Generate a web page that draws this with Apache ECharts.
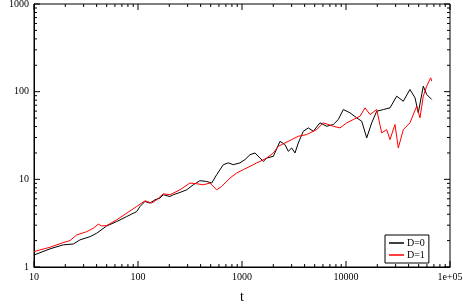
<!DOCTYPE html>
<html>
<head>
<meta charset="utf-8">
<script src="https://cdn.jsdelivr.net/npm/echarts@6/dist/echarts.min.js"></script>
<style>
  html, body { margin: 0; padding: 0; background: #fff; }
  #main { width: 463px; height: 304px; }
</style>
</head>
<body>
<div id="main"></div>
<script>
// values (t, W)
var tD0 = [10, 14.25, 19.1, 23.9, 27.7, 34.6, 40.1, 50, 62.4, 77.8, 97.2, 104.5, 116.7, 130.4, 145.6, 162.7, 175, 203,
  218, 253, 294, 340, 394, 458, 511, 571, 661, 738, 824, 957, 1069, 1194, 1334, 1490, 1603, 1728, 2001, 2319, 2590,
  2786, 3005, 3232, 3477, 3884, 4340, 4850, 5623, 6520, 7550, 8430, 9420, 10920, 12670, 14160, 15820, 17670, 19740,
  22840, 26490, 30720, 35560, 41210, 46080, 49550, 55370, 59700, 66700];
var wD0 = [1.37, 1.61, 1.79, 1.83, 2.04, 2.22, 2.43, 2.94, 3.30, 3.76, 4.29, 4.90, 5.59, 5.36, 5.84, 6.11, 6.67, 6.37,
  6.67, 7.08, 7.60, 8.67, 9.64, 9.46, 9.07, 11.3, 14.7, 15.4, 14.7, 15.4, 16.8, 19.1, 20.0, 17.5, 16.0, 17.5, 18.3, 27.1, 24.9,
  20.9, 22.8, 20.0, 26.0, 35.3, 38.6, 35.3, 44.1, 40.3, 42.2, 48.1, 62.5, 57.4, 50.3, 46.0, 29.7, 44.1, 59.8,
  62.5, 65.4, 88.8, 77.8, 106, 85.1, 57.4, 115.6, 92.9, 81.4];

var tD1 = [10, 14.25, 19.1, 22.2, 25.7, 32.1, 37.2, 41.5, 44.8, 50, 62.4, 77.8, 97.2, 116.7, 135.4, 151.4, 175, 203,
  253, 316, 366, 425, 492, 571, 638, 767, 889, 1029, 1194, 1384, 1490, 1728, 2001, 2234, 2590, 3005, 3477,
  4190, 5225, 6055, 7550, 8750, 10160, 11760, 13640, 15240, 17020, 19740, 22030, 24610, 26490, 29580, 31840,
  35560, 41210, 47860, 51460, 55370, 59700, 65220, 66700];
var wD1 = [1.50, 1.68, 1.90, 2.00, 2.32, 2.53, 2.77, 3.08, 2.94, 2.97, 3.45, 4.11, 4.90, 5.69, 5.36, 5.84, 6.84, 6.67,
  7.60, 9.07, 8.91, 8.67, 9.07, 7.60, 8.30, 10.35, 11.8, 12.9, 14.05, 15.4, 16.0, 17.5, 20.0, 23.8, 26.0, 28.4, 31.0,
  32.4, 36.9, 44.1, 40.3, 38.6, 44.1, 48.1, 52.5, 65.4, 54.8, 62.5, 33.9, 36.9, 28.4, 42.2, 22.8,
  36.9, 44.1, 68.2, 50.3, 88.8, 115.6, 144, 132];

var xMajor = [10, 100, 1000, 10000, 100000];
var yMajor = [1, 10, 100, 1000];
var xMin = 10, xMax = 100000, yMin = 1, yMax = 1000;

function pairs(xs, ys) {
  return xs.map(function (x, i) { return [x, ys[i]]; });
}
// 2..9 inside each decade
function minors(majors) {
  var out = [];
  for (var i = 0; i < majors.length - 1; i++) {
    for (var k = 2; k <= 9; k++) out.push(majors[i] * k);
  }
  return out;
}

// tick rows: [t, W, length, 0 = x tick / 1 = y tick]
var tickData = []
  .concat(xMajor.map(function (v) { return [v, yMin, 6, 0]; }))
  .concat(minors(xMajor).map(function (v) { return [v, yMin, 3, 0]; }))
  .concat(yMajor.map(function (v) { return [xMin, v, 6, 1]; }))
  .concat(minors(yMajor).map(function (v) { return [xMin, v, 3, 1]; }));

function seg(x1, y1, x2, y2) {
  return { type: 'line', shape: { x1: x1, y1: y1, x2: x2, y2: y2 }, style: { stroke: '#000', lineWidth: 1 } };
}

// inward ticks mirrored on the opposite side, placed through the axes' own scales
function renderTick(params, api) {
  var len = api.value(2);
  if (api.value(3) === 0) {
    var b = api.coord([api.value(0), yMin]);
    var t = api.coord([api.value(0), yMax]);
    return { type: 'group', children: [seg(b[0], b[1], b[0], b[1] - len), seg(t[0], t[1], t[0], t[1] + len)] };
  }
  var l = api.coord([xMin, api.value(1)]);
  var r = api.coord([xMax, api.value(1)]);
  return { type: 'group', children: [seg(l[0], l[1], l[0] + len, l[1]), seg(r[0], r[1], r[0] - len, r[1])] };
}

var serif = 'Liberation Serif';

var chart = echarts.init(document.getElementById('main'));
chart.setOption({
  animation: false,
  backgroundColor: '#fff',
  grid: {
    left: 34, right: 13, top: 4, bottom: 37, outerBoundsMode: 'none',
    show: true, borderColor: '#000', borderWidth: 1, backgroundColor: 'transparent'
  },
  xAxis: {
    type: 'log', min: xMin, max: xMax,
    name: 't', nameLocation: 'middle', nameGap: 23,
    nameTextStyle: { fontFamily: serif, fontSize: 14, color: '#000' },
    axisLine: { show: true, onZero: false, lineStyle: { color: '#000' } },
    axisTick: { show: false },
    axisLabel: {
      fontFamily: serif, fontSize: 10, color: '#000', margin: 5,
      formatter: function (v) { return v >= 100000 ? '1e+05' : String(Math.round(v)); }
    },
    splitLine: { show: false }
  },
  yAxis: {
    type: 'log', min: yMin, max: yMax,
    name: 'W', nameLocation: 'middle', nameGap: 25,
    nameTextStyle: { fontFamily: serif, fontSize: 13, color: '#000' },
    axisLine: { show: true, onZero: false, lineStyle: { color: '#000' } },
    axisTick: { show: false },
    axisLabel: {
      fontFamily: serif, fontSize: 10, color: '#000', margin: 5,
      formatter: function (v) { return String(Math.round(v)); }
    },
    splitLine: { show: false }
  },
  legend: {
    left: 385, top: 235,
    orient: 'vertical',
    backgroundColor: '#fff',
    borderColor: '#000', borderWidth: 1,
    padding: [3, 4, 3, 4],
    itemGap: 2,
    itemWidth: 15, itemHeight: 1.5,
    icon: 'rect',
    textStyle: { fontFamily: serif, fontSize: 10, color: '#000', padding: [0, 0, 0, -2] },
    data: ['D=0', 'D=1']
  },
  series: [
    {
      name: 'D=0', type: 'line',
      data: pairs(tD0, wD0), showSymbol: false, symbol: 'none',
      lineStyle: { color: '#000', width: 1 }, itemStyle: { color: '#000' }
    },
    {
      name: 'D=1', type: 'line',
      data: pairs(tD1, wD1), showSymbol: false, symbol: 'none',
      lineStyle: { color: '#ff0000', width: 1 }, itemStyle: { color: '#ff0000' }
    },
    {
      type: 'custom', silent: true, clip: false, z: 5,
      encode: { x: 0, y: 1 },
      data: tickData,
      renderItem: renderTick
    }
  ]
});
</script>
</body>
</html>
